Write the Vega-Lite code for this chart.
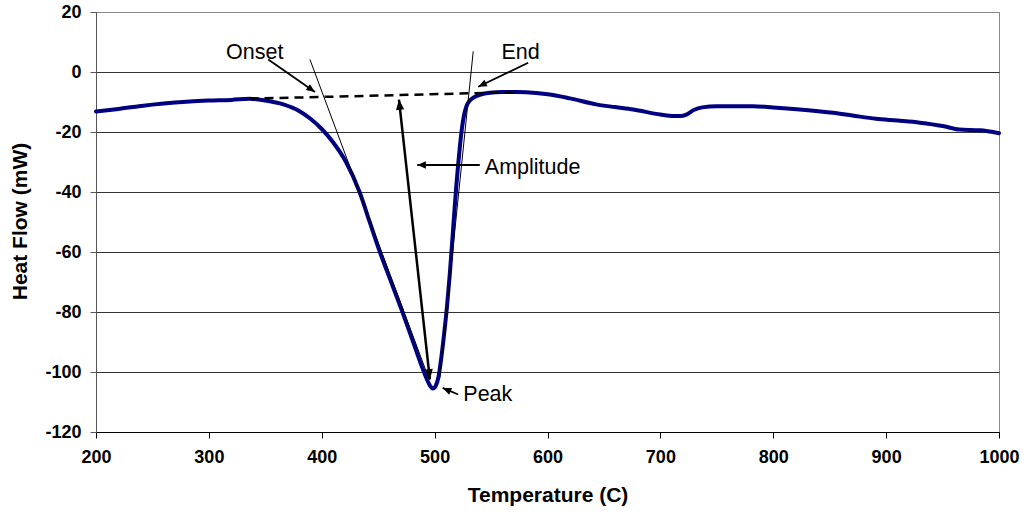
{
  "$schema": "https://vega.github.io/schema/vega-lite/v6.json",
  "autosize": {"type": "none"},
  "padding": {"left": 96, "top": 12, "right": 30, "bottom": 86},
  "width": 903,
  "height": 420,
  "background": "white",
  "config": {
    "view": {"stroke": "#888", "strokeWidth": 1},
    "font": "Liberation Sans"
  },
  "datasets": {
    "curve": [
      {"T": 200, "HF": -13.2}, {"T": 220, "HF": -12.3}, {"T": 240, "HF": -11.3}, {"T": 260, "HF": -10.5},
      {"T": 280, "HF": -9.9}, {"T": 300, "HF": -9.5}, {"T": 320, "HF": -9.3}, {"T": 336, "HF": -8.9},
      {"T": 350, "HF": -9.5}, {"T": 366, "HF": -10.8}, {"T": 380, "HF": -13.0}, {"T": 390, "HF": -15.6},
      {"T": 400, "HF": -19.0}, {"T": 410, "HF": -23.4}, {"T": 421.5, "HF": -30}, {"T": 433.5, "HF": -40},
      {"T": 442.5, "HF": -50}, {"T": 451.5, "HF": -60}, {"T": 461.5, "HF": -70}, {"T": 471.5, "HF": -80},
      {"T": 481, "HF": -90}, {"T": 488, "HF": -97.5}, {"T": 493, "HF": -102.3}, {"T": 496, "HF": -104.6},
      {"T": 498.5, "HF": -105.5}, {"T": 501, "HF": -104.6}, {"T": 503.5, "HF": -101.5}, {"T": 506, "HF": -95},
      {"T": 508.5, "HF": -87}, {"T": 511, "HF": -78}, {"T": 513.3, "HF": -68}, {"T": 515.3, "HF": -58},
      {"T": 517.2, "HF": -48}, {"T": 519, "HF": -39}, {"T": 520.8, "HF": -31}, {"T": 522.6, "HF": -24},
      {"T": 524.3, "HF": -18.5}, {"T": 526, "HF": -14.5}, {"T": 528, "HF": -11.6}, {"T": 531, "HF": -9.6},
      {"T": 535, "HF": -8.4}, {"T": 540, "HF": -7.6}, {"T": 549, "HF": -6.9}, {"T": 560, "HF": -6.7},
      {"T": 573, "HF": -6.7}, {"T": 590, "HF": -7.0}, {"T": 602, "HF": -7.5}, {"T": 620, "HF": -8.8},
      {"T": 643, "HF": -10.8}, {"T": 660, "HF": -11.7}, {"T": 676, "HF": -12.5}, {"T": 700, "HF": -14.2},
      {"T": 712, "HF": -14.7}, {"T": 718, "HF": -14.7}, {"T": 723, "HF": -14.2}, {"T": 730, "HF": -12.6},
      {"T": 737, "HF": -11.8}, {"T": 750, "HF": -11.4}, {"T": 782, "HF": -11.4}, {"T": 800, "HF": -11.8},
      {"T": 818, "HF": -12.3}, {"T": 853, "HF": -13.6}, {"T": 870, "HF": -14.5}, {"T": 891, "HF": -15.6},
      {"T": 910, "HF": -16.2}, {"T": 930, "HF": -16.9}, {"T": 950, "HF": -18.0}, {"T": 965, "HF": -19.2},
      {"T": 983, "HF": -19.4}, {"T": 1000, "HF": -20.4}
    ],
    "baseline": [{"x": 336, "y": -8.9, "x2": 575, "y2": -6.7}],
    "tangents": [
      {"name": "onset tangent", "x": 389.5, "y": 4.2, "x2": 495.2, "y2": -102.5},
      {"name": "end tangent", "x": 534.2, "y": 6.9, "x2": 504.5, "y2": -102}
    ],
    "arrows": [
      {"name": "Onset", "x": 352.6, "y": 4.2, "x2": 394, "y2": -6.7},
      {"name": "End", "x": 582.9, "y": 3.1, "x2": 538.6, "y2": -4.9},
      {"name": "Amplitude", "x": 540, "y": -31.0, "x2": 484.6, "y2": -31.0},
      {"name": "Peak", "x": 520.9, "y": -107.5, "x2": 507.1, "y2": -105.3}
    ],
    "amplitude": [{"x": 495.8, "y": -102.5, "x2": 468.4, "y2": -9.2}],
    "labels": [
      {"text": "Onset", "x": 340.6, "y": 4.4, "align": "center"},
      {"text": "End", "x": 576.2, "y": 4.4, "align": "center"},
      {"text": "Amplitude", "x": 544.5, "y": -33.9, "align": "left"},
      {"text": "Peak", "x": 525.4, "y": -109.7, "align": "left"}
    ]
  },
  "layer": [
    {
      "data": {"name": "curve"},
      "mark": {"type": "line", "color": "#000080", "strokeWidth": 4, "strokeCap": "round", "strokeJoin": "round", "interpolate": "monotone"},
      "encoding": {
        "x": {
          "field": "T", "type": "quantitative",
          "scale": {"domain": [200, 1000], "nice": false, "zero": false},
          "axis": {
            "title": "Temperature (C)", "values": [200, 300, 400, 500, 600, 700, 800, 900, 1000],
            "labelExpr": "datum.value + ''",
            "grid": false, "domainColor": "#000", "domainWidth": 1, "tickColor": "#000", "tickSize": 6,
            "labelFont": "Liberation Sans", "labelFontSize": 18, "labelFontWeight": "bold", "labelColor": "#000",
            "labelPadding": 10, "labelFlush": false,
            "titleFont": "Liberation Sans", "titleFontSize": 21, "titleFontWeight": "bold", "titleColor": "#000",
            "titleX": 451.5, "titleY": 63, "titleBaseline": "middle", "titleAlign": "center"
          }
        },
        "y": {
          "field": "HF", "type": "quantitative",
          "scale": {"domain": [-120, 20], "nice": false, "zero": false},
          "axis": {
            "title": "Heat Flow (mW)", "values": [-120, -100, -80, -60, -40, -20, 0, 20],
            "labelExpr": "datum.value + ''",
            "grid": true,
            "gridColor": {"condition": {"test": "datum.value == 20", "value": "#888"}, "value": "#333"},
            "gridWidth": 1,
            "domainColor": "#555", "tickColor": "#555", "tickSize": 6,
            "labelFont": "Liberation Sans", "labelFontSize": 18, "labelFontWeight": "bold", "labelColor": "#000",
            "labelPadding": 9,
            "titleFont": "Liberation Sans", "titleFontSize": 21, "titleFontWeight": "bold", "titleColor": "#000",
            "titleAngle": -90, "titleX": -76, "titleY": 209, "titleBaseline": "middle", "titleAlign": "center"
          }
        }
      }
    },
    {
      "data": {"name": "baseline"},
      "mark": {"type": "rule", "color": "#000", "strokeWidth": 2.5, "strokeDash": [9, 6]},
      "encoding": {
        "x": {"field": "x", "type": "quantitative"}, "y": {"field": "y", "type": "quantitative"},
        "x2": {"field": "x2"}, "y2": {"field": "y2"}
      }
    },
    {
      "data": {"name": "tangents"},
      "mark": {"type": "rule", "color": "#000", "strokeWidth": 1},
      "encoding": {
        "x": {"field": "x", "type": "quantitative"}, "y": {"field": "y", "type": "quantitative"},
        "x2": {"field": "x2"}, "y2": {"field": "y2"}
      }
    },
    {
      "data": {"name": "arrows"},
      "mark": {"type": "rule", "color": "#000", "strokeWidth": 1.8},
      "encoding": {
        "x": {"field": "x", "type": "quantitative"}, "y": {"field": "y", "type": "quantitative"},
        "x2": {"field": "x2"}, "y2": {"field": "y2"}
      }
    },
    {
      "data": {"name": "arrows"},
      "transform": [{"calculate": "atan2((datum.x2-datum.x)*1.12875, (datum.y2-datum.y)*3)*180/PI", "as": "ang"}],
      "mark": {"type": "point", "shape": "M0,0L0.42,1L-0.42,1Z", "filled": true, "color": "#000", "opacity": 1, "size": 300},
      "encoding": {
        "x": {"field": "x2", "type": "quantitative"}, "y": {"field": "y2", "type": "quantitative"},
        "angle": {"field": "ang", "type": "quantitative", "scale": null}
      }
    },
    {
      "data": {"name": "amplitude"},
      "mark": {"type": "rule", "color": "#000", "strokeWidth": 2.5},
      "encoding": {
        "x": {"field": "x", "type": "quantitative"}, "y": {"field": "y", "type": "quantitative"},
        "x2": {"field": "x2"}, "y2": {"field": "y2"}
      }
    },
    {
      "data": {"name": "amplitude"},
      "transform": [{"calculate": "atan2((datum.x2-datum.x)*1.12875, (datum.y2-datum.y)*3)*180/PI", "as": "ang"}],
      "mark": {"type": "point", "shape": "M0,0L0.4,1L-0.4,1Z", "filled": true, "color": "#000", "opacity": 1, "size": 420},
      "encoding": {
        "x": {"field": "x2", "type": "quantitative"}, "y": {"field": "y2", "type": "quantitative"},
        "angle": {"field": "ang", "type": "quantitative", "scale": null}
      }
    },
    {
      "data": {"name": "amplitude"},
      "transform": [{"calculate": "atan2((datum.x-datum.x2)*1.12875, (datum.y-datum.y2)*3)*180/PI", "as": "ang"}],
      "mark": {"type": "point", "shape": "M0,0L0.4,1L-0.4,1Z", "filled": true, "color": "#000", "opacity": 1, "size": 420},
      "encoding": {
        "x": {"field": "x", "type": "quantitative"}, "y": {"field": "y", "type": "quantitative"},
        "angle": {"field": "ang", "type": "quantitative", "scale": null}
      }
    },
    {
      "data": {"name": "labels"},
      "transform": [{"filter": "datum.align == 'center'"}],
      "mark": {"type": "text", "font": "Liberation Sans", "fontSize": 21.5, "color": "#000", "align": "center", "baseline": "alphabetic"},
      "encoding": {
        "x": {"field": "x", "type": "quantitative"}, "y": {"field": "y", "type": "quantitative"},
        "text": {"field": "text"}
      }
    },
    {
      "data": {"name": "labels"},
      "transform": [{"filter": "datum.align == 'left'"}],
      "mark": {"type": "text", "font": "Liberation Sans", "fontSize": 21.5, "color": "#000", "align": "left", "baseline": "alphabetic"},
      "encoding": {
        "x": {"field": "x", "type": "quantitative"}, "y": {"field": "y", "type": "quantitative"},
        "text": {"field": "text"}
      }
    }
  ]
}
